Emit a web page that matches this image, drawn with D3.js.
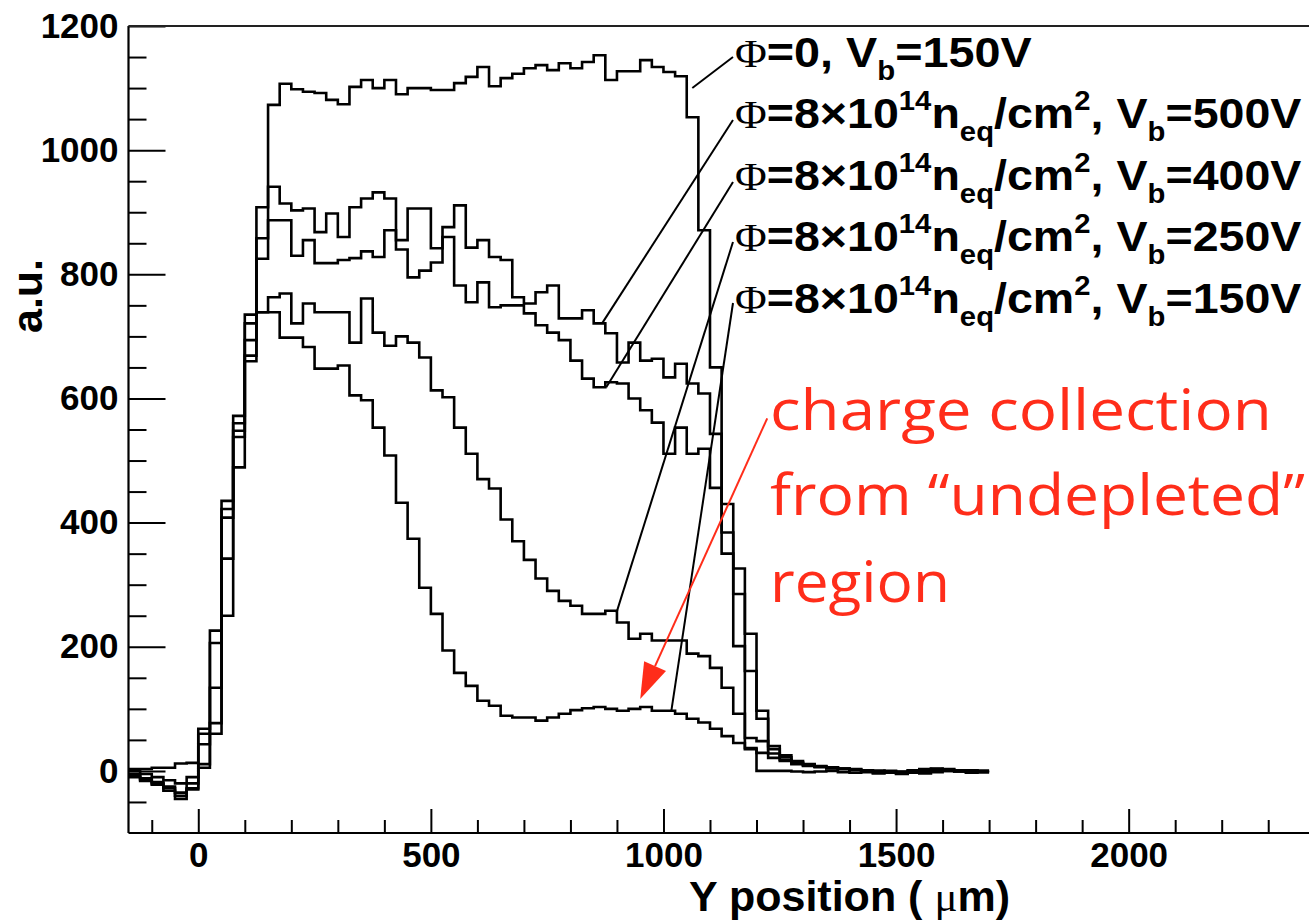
<!DOCTYPE html>
<html><head><meta charset="utf-8">
<script src="https://cdn.jsdelivr.net/npm/d3@7/dist/d3.min.js"></script>
<style>body{margin:0;background:#fff;} svg{display:block}</style>
</head><body><svg id="chart" width="1309" height="923"></svg>
<script>
// ---------------- data ----------------
const binStart = -150;   // first bin lower edge (μm)
const binWidth = 25;     // μm

// Φ=0, Vb=150V
const phi0_150V = [3, 3, 5, 5, 12, 13,
  68, 226, 435, 572, 735, 908,
  1073, 1107, 1098, 1094, 1092, 1081, 1074, 1102, 1113, 1100, 1113, 1090,
  1100, 1100, 1097, 1097, 1108, 1118, 1134, 1103, 1116, 1123, 1132, 1137,
  1129, 1140, 1132, 1142, 1153, 1113, 1127, 1127, 1145, 1134, 1126, 1119,
  1053, 871, 650, 384, 201, 37, 0, 0, 0, -1, -2, -1,
  0, -2, -3, -2, -4, -3, -5, -3, -4, -2, 0, -1, -3, -2];
// Φ=8e14, Vb=500V
const irr_500V = [-5, -16, -20, -32, -45, -30,
  60, 206, 422, 560, 721, 858,
  941, 914, 903, 906, 868, 898, 860, 908, 922, 932, 922, 855,
  906, 906, 842, 876, 911, 843, 855, 828, 823, 763, 753, 771,
  782, 729, 729, 742, 721, 705, 658, 690, 661, 664, 634, 656,
  624, 608, 543, 430, 326, 221, 97, 40, 25, 16, 11, 8,
  6, 4, 3, 1, 0, -1, -2, 1, 3, 2, 0, -1, 1, 0];
// Φ=8e14, Vb=400V
const irr_400V = [-8, -14, -22, -28, -40, -28,
  43, 134, 408, 548, 694, 825,
  887, 887, 830, 855, 818, 818, 823, 826, 837, 828, 871, 840,
  795, 806, 819, 860, 782, 755, 787, 747, 750, 750, 737, 718,
  706, 694, 661, 632, 618, 626, 624, 600, 581, 561, 511, 553,
  511, 519, 456, 350, 285, 161, 84, 35, 22, 14, 10, 7,
  5, 3, 2, 0, -1, 0, -2, 0, 2, 4, 1, 0, -1, 0];
// Φ=8e14, Vb=250V
const irr_250V = [-10, -12, -18, -25, -35, -20,
  11, 77, 342, 538, 669, 739,
  763, 769, 721, 753, 739, 739, 739, 690, 761, 706, 685, 700,
  690, 666, 613, 602, 553, 511, 470, 455, 405, 370, 340, 310,
  290, 274, 266, 253, 253, 258, 239, 213, 221, 210, 210, 210,
  189, 185, 166, 134, 92, 53, 48, 28, 18, 12, 9, 7,
  5, 4, 2, 1, 0, -2, -1, -3, 0, 2, 3, 1, 0, -1];
// Φ=8e14, Vb=150V
const irr_150V = [0, -5, -10, -15, -20, -10,
  5, 60, 250, 489, 660, 739,
  739, 698, 698, 683, 648, 648, 653, 605, 597, 553, 508, 432,
  374, 295, 253, 194, 158, 137, 113, 105, 89, 86, 86, 81,
  86, 92, 98, 101, 103, 100, 97, 100, 103, 97, 97, 92,
  84, 78, 68, 56, 45, 35, 29, 21, 16, 11, 8, 6,
  4, 3, 1, 0, -2, -3, -4, -2, 1, 3, 2, 0, -1, -2];

const xTickLabels = [0, 500, 1000, 1500, 2000];
const yTickLabels = [0, 200, 400, 600, 800, 1000, 1200];
const voltages = ["150V", "500V", "400V", "250V", "150V"];
const annotationLines = ["charge collection", "from \u201Cundepleted\u201D", "region"];

// ---------------- drawing ----------------
const svg = d3.select("#chart");
svg.append("rect").attr("width", 1309).attr("height", 923).attr("fill", "#fff");

const x = d3.scaleLinear().domain([-150, 2450]).range([128.5, 1338]);
const y = d3.scaleLinear().domain([-100, 1200]).range([833, 26]);

const fontSans = "'Liberation Sans', Arial, Helvetica, sans-serif";
const fontSerif = "'Liberation Serif', 'Times New Roman', serif";

// minor ticks
const xMinor = d3.range(-100, 2450, 100).filter(v => v % 500 !== 0);
const yMinor = d3.range(-50, 1200, 50).filter(v => v % 200 !== 0);

function styleAxis(g) {
  g.select(".domain").remove();
  g.selectAll("line").attr("stroke", "#000").attr("stroke-width", 2);
  g.selectAll("text").attr("font-size", 35).attr("font-weight", "bold")
    .attr("font-family", fontSans).attr("fill", "#000");
}

svg.append("g").attr("transform", `translate(0,${y(-100)})`)
  .call(d3.axisBottom(x).tickValues(xMinor).tickSize(-13).tickSizeOuter(0).tickFormat(() => ""))
  .call(styleAxis);
svg.append("g").attr("transform", `translate(0,${y(-100)})`)
  .call(d3.axisBottom(x).tickValues(xTickLabels).tickSize(-24).tickSizeOuter(0).tickPadding(9).tickFormat(d3.format("d")))
  .call(styleAxis);
svg.append("g").attr("transform", `translate(${x(-150)},0)`)
  .call(d3.axisLeft(y).tickValues(yMinor).tickSize(-18).tickSizeOuter(0).tickFormat(() => ""))
  .call(styleAxis);
svg.append("g").attr("transform", `translate(${x(-150)},0)`)
  .call(d3.axisLeft(y).tickValues(yTickLabels).tickSize(-37).tickSizeOuter(0).tickPadding(10).tickFormat(d3.format("d")))
  .call(styleAxis);

// frame
const frame = svg.append("g").attr("stroke", "#000").attr("stroke-width", 2.2).attr("fill", "none");
frame.append("line").attr("x1", x(-150)).attr("x2", x(-150)).attr("y1", y(-100)).attr("y2", y(1200));
frame.append("line").attr("x1", x(-150)).attr("x2", x(2450)).attr("y1", y(-100)).attr("y2", y(-100));
frame.append("line").attr("x1", x(-150)).attr("x2", x(2450)).attr("y1", y(1200)).attr("y2", y(1200)).attr("stroke", "#222");

// histograms
const seriesList = [phi0_150V, irr_500V, irr_400V, irr_250V, irr_150V];
const stepLine = d3.line().x(d => x(d[0])).y(d => y(d[1])).curve(d3.curveStepAfter);
seriesList.forEach(vals => {
  const pts = vals.map((v, i) => [binStart + i * binWidth, v]);
  pts.push([binStart + vals.length * binWidth, vals[vals.length - 1]]);
  svg.append("path").attr("d", stepLine(pts)).attr("fill", "none")
    .attr("stroke", "#000").attr("stroke-width", 2.6).attr("stroke-linejoin", "miter");
});

// axis titles
svg.append("text").attr("x", 1010).attr("y", 911).attr("text-anchor", "end")
  .attr("font-family", fontSans).attr("font-weight", "bold").attr("font-size", 43)
  .call(t => {
    t.append("tspan").text("Y position ( ");
    t.append("tspan").attr("font-weight", "normal").attr("font-family", fontSerif).text("\u03BC");
    t.append("tspan").text("m)");
  });
svg.append("text").attr("transform", "translate(42,296) rotate(-90)").attr("text-anchor", "middle")
  .attr("font-family", fontSans).attr("font-weight", "bold").attr("font-size", 43).text("a.u.");

// legend labels with connector lines
const legendX = 735;
const legendBaselines = [67, 128, 190, 251, 313];
const legendWidths = [297, 567, 567, 567, 567];
const anchors = [[1062, 1100], [868, 721], [877, 618], [899, 255], [1017, 97]];
const lineStartY = [57, 120, 182, 242, 303];

anchors.forEach((a, i) => {
  svg.append("line").attr("x1", legendX - 2).attr("y1", lineStartY[i])
    .attr("x2", x(a[0])).attr("y2", y(a[1]))
    .attr("stroke", "#000").attr("stroke-width", 2);
});

voltages.forEach((vb, i) => {
  const g = svg.append("g");
  const t = g.append("text").attr("font-family", fontSans).attr("font-weight", "bold").attr("font-size", 43);
  let parts;
  if (i === 0) {
    parts = [["\u03A6", "phi"], ["=0, V", null], ["b", "sub"], ["=" + vb, null]];
  } else {
    parts = [["\u03A6", "phi"], ["=8\u00D710", null], ["14", "sup"], ["n", null], ["eq", "sub"],
             ["/cm", null], ["2", "sup"], [", V", null], ["b", "sub"], ["=" + vb, null]];
  }
  let cur = 0;
  parts.forEach(([txt, kind]) => {
    const target = kind === "sup" ? -18 : kind === "sub" ? 13 : 0;
    const ts = t.append("tspan").text(txt).attr("dy", target - cur);
    cur = target;
    if (kind === "sup" || kind === "sub") ts.attr("font-size", 27);
    if (kind === "phi") ts.attr("font-family", fontSerif).attr("font-weight", "normal").attr("font-size", 40);
  });
  const w = t.node().getBBox().width;
  g.attr("transform", `translate(${legendX},${legendBaselines[i]}) scale(${legendWidths[i] / w},1)`);
});

// red annotation
const red = "#ff2d1a";
const annoBaselines = [430, 515, 602];
const annoWidths = [502, 535, 180];
annotationLines.forEach((s, i) => {
  const g = svg.append("g");
  const t = g.append("text").attr("font-family", "'Comic Sans MS', 'Open Sans', 'Noto Sans', sans-serif")
    .attr("font-size", 56).attr("fill", red).text(s);
  const w = t.node().getBBox().width;
  g.attr("transform", `translate(770,${annoBaselines[i]}) scale(${annoWidths[i] / w},1)`);
});
// arrow
const arrowFrom = [x(1223), y(568)], arrowTo = [x(950), y(116)];
const dx = arrowTo[0] - arrowFrom[0], dy = arrowTo[1] - arrowFrom[1];
const L = Math.hypot(dx, dy), ux = dx / L, uy = dy / L;
const headLen = 36, headHalf = 12;
const bx = arrowTo[0] - ux * headLen, by = arrowTo[1] - uy * headLen;
svg.append("line").attr("x1", arrowFrom[0]).attr("y1", arrowFrom[1]).attr("x2", bx).attr("y2", by)
  .attr("stroke", red).attr("stroke-width", 2);
svg.append("path").attr("d", `M${arrowTo[0]},${arrowTo[1]} L${bx - uy * headHalf},${by + ux * headHalf} L${bx + uy * headHalf},${by - ux * headHalf} Z`)
  .attr("fill", red);
</script>
</body></html>
